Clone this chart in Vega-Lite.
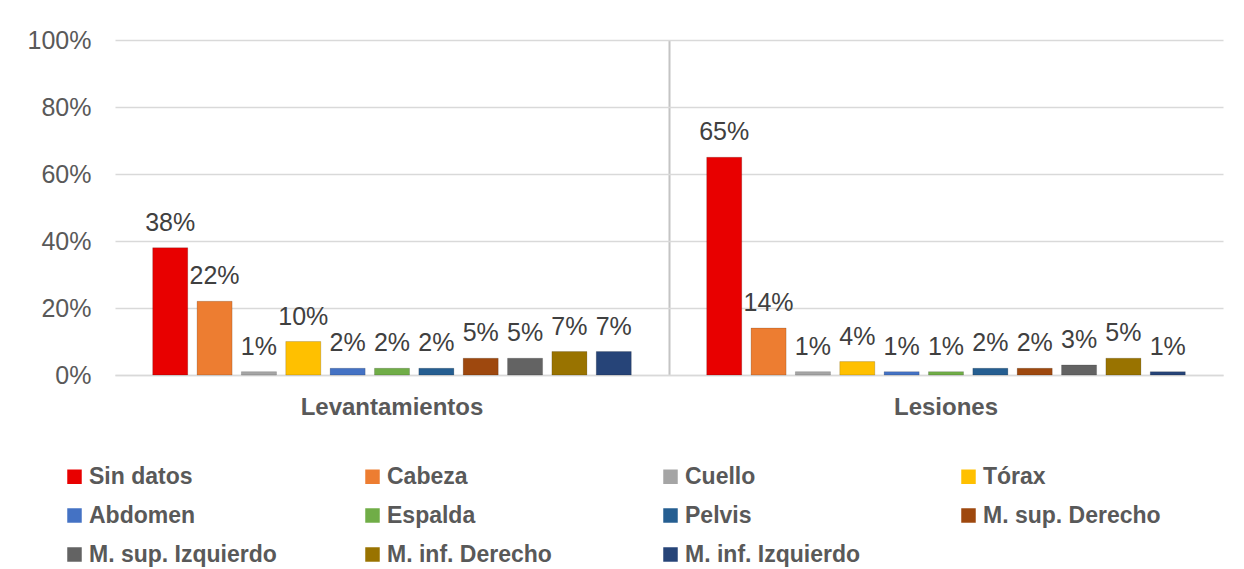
{
  "$schema": "https://vega.github.io/schema/vega-lite/v6.json",
  "autosize": "none",
  "width": 1108,
  "height": 335,
  "padding": {"left": 115, "top": 40, "right": 21, "bottom": 194},
  "background": "white",
  "config": {
    "view": {"stroke": null},
    "font": "Liberation Sans"
  },
  "data": {
    "values": [
      {"grupo": "Levantamientos", "zona": "Sin datos", "valor": 0.38},
      {"grupo": "Levantamientos", "zona": "Cabeza", "valor": 0.22},
      {"grupo": "Levantamientos", "zona": "Cuello", "valor": 0.01},
      {"grupo": "Levantamientos", "zona": "Tórax", "valor": 0.10},
      {"grupo": "Levantamientos", "zona": "Abdomen", "valor": 0.02},
      {"grupo": "Levantamientos", "zona": "Espalda", "valor": 0.02},
      {"grupo": "Levantamientos", "zona": "Pelvis", "valor": 0.02},
      {"grupo": "Levantamientos", "zona": "M. sup. Derecho", "valor": 0.05},
      {"grupo": "Levantamientos", "zona": "M. sup. Izquierdo", "valor": 0.05},
      {"grupo": "Levantamientos", "zona": "M. inf. Derecho", "valor": 0.07},
      {"grupo": "Levantamientos", "zona": "M. inf. Izquierdo", "valor": 0.07},
      {"grupo": "Lesiones", "zona": "Sin datos", "valor": 0.65},
      {"grupo": "Lesiones", "zona": "Cabeza", "valor": 0.14},
      {"grupo": "Lesiones", "zona": "Cuello", "valor": 0.01},
      {"grupo": "Lesiones", "zona": "Tórax", "valor": 0.04},
      {"grupo": "Lesiones", "zona": "Abdomen", "valor": 0.01},
      {"grupo": "Lesiones", "zona": "Espalda", "valor": 0.01},
      {"grupo": "Lesiones", "zona": "Pelvis", "valor": 0.02},
      {"grupo": "Lesiones", "zona": "M. sup. Derecho", "valor": 0.02},
      {"grupo": "Lesiones", "zona": "M. sup. Izquierdo", "valor": 0.03},
      {"grupo": "Lesiones", "zona": "M. inf. Derecho", "valor": 0.05},
      {"grupo": "Lesiones", "zona": "M. inf. Izquierdo", "valor": 0.01}
    ]
  },
  "encoding": {
    "x": {
      "field": "grupo",
      "type": "nominal",
      "sort": ["Levantamientos", "Lesiones"],
      "scale": {"paddingInner": 0, "paddingOuter": 0},
      "axis": {
        "title": null,
        "labelAngle": 0,
        "labelFont": "Liberation Sans",
        "labelFontSize": 24,
        "labelFontWeight": "bold",
        "labelColor": "#595959",
        "labelPadding": 20,
        "labelLimit": 500,
        "ticks": false,
        "tickSize": 0,
        "domain": true,
        "domainColor": "#d9d9d9",
        "domainWidth": 1.5,
        "grid": true,
        "bandPosition": 0,
        "gridColor": {"condition": {"test": "datum.value === 'Lesiones'", "value": "#c4c4c4"}, "value": "transparent"},
        "gridWidth": 2
      }
    },
    "xOffset": {
      "field": "zona",
      "type": "nominal",
      "sort": ["Sin datos", "Cabeza", "Cuello", "Tórax", "Abdomen", "Espalda", "Pelvis", "M. sup. Derecho", "M. sup. Izquierdo", "M. inf. Derecho", "M. inf. Izquierdo"],
      "scale": {"paddingInner": 0.21, "paddingOuter": 0.85}
    },
    "y": {
      "field": "valor",
      "type": "quantitative",
      "scale": {"domain": [0, 1]},
      "axis": {
        "title": null,
        "format": ".0%",
        "values": [0, 0.2, 0.4, 0.6, 0.8, 1],
        "labelFont": "Liberation Sans",
        "labelFontSize": 25,
        "labelColor": "#595959",
        "labelPadding": 24,
        "ticks": false,
        "tickSize": 0,
        "domain": false,
        "grid": true,
        "gridColor": "#d9d9d9",
        "gridWidth": 1.5
      }
    }
  },
  "layer": [
    {
      "mark": {"type": "bar", "stroke": "#00000033", "strokeWidth": 0.8},
      "encoding": {
        "color": {
          "field": "zona",
          "type": "nominal",
          "sort": ["Sin datos", "Cabeza", "Cuello", "Tórax", "Abdomen", "Espalda", "Pelvis", "M. sup. Derecho", "M. sup. Izquierdo", "M. inf. Derecho", "M. inf. Izquierdo"],
          "scale": {
            "domain": ["Sin datos", "Cabeza", "Cuello", "Tórax", "Abdomen", "Espalda", "Pelvis", "M. sup. Derecho", "M. sup. Izquierdo", "M. inf. Derecho", "M. inf. Izquierdo"],
            "range": ["#E80000", "#ED7D31", "#A5A5A5", "#FFC000", "#4472C4", "#70AD47", "#255E91", "#9E480E", "#636363", "#997300", "#264478"]
          },
          "legend": {
            "title": null,
            "orient": "none",
            "legendX": -52,
            "legendY": 425,
            "direction": "horizontal",
            "columns": 4,
            "gridAlign": "all",
            "columnPadding": 84,
            "rowPadding": 15,
            "symbolType": "square",
            "symbolSize": 210,
            "symbolStrokeWidth": 0,
            "labelOffset": 3,
            "labelFont": "Liberation Sans",
            "labelFontSize": 23,
            "labelFontWeight": "bold",
            "labelColor": "#595959",
            "labelLimit": 400
          }
        }
      }
    },
    {
      "mark": {"type": "text", "baseline": "alphabetic", "dy": -17, "font": "Liberation Sans", "fontSize": 25, "color": "#404040"},
      "encoding": {
        "text": {"field": "valor", "type": "quantitative", "format": ".0%"}
      }
    }
  ]
}
